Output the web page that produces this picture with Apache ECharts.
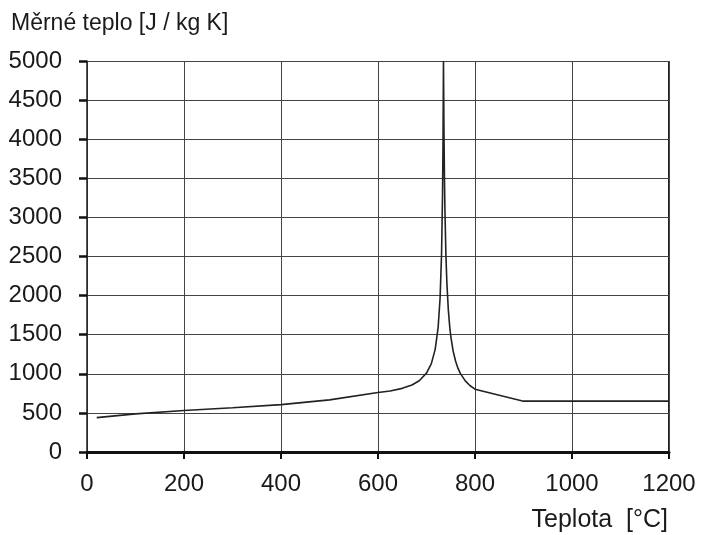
<!DOCTYPE html>
<html>
<head>
<meta charset="utf-8">
<script src="https://cdn.jsdelivr.net/npm/echarts@6/dist/echarts.min.js"></script>
<style>html,body{margin:0;padding:0;background:#fff}#c{width:706px;height:535px}</style>
</head>
<body>
<div id="c"></div>
<script>
const temperature = [20, 100, 200, 300, 400, 500, 600, 625, 650, 670, 685, 700, 710, 718, 724, 728, 731, 733, 734, 735, 736, 737, 738, 740, 742, 745, 748, 750, 755, 760, 765, 770, 780, 790, 800, 900, 1200];
const specificHeat = [440, 488, 530, 565, 606, 667, 760, 781, 814, 857, 911, 1008, 1130, 1316, 1595, 1966, 2523, 3266, 3916, 5000, 4109, 3515, 3091, 2525, 2165, 1818, 1593, 1483, 1288, 1160, 1069, 1002, 909, 847, 803, 650, 650];
const xTicks = [0, 200, 400, 600, 800, 1000, 1200];
const yTicks = [0, 500, 1000, 1500, 2000, 2500, 3000, 3500, 4000, 4500, 5000];
const yTitle = 'Měrné teplo [J / kg K]';
const xTitle = 'Teplota  [°C]';

const chart = echarts.init(document.getElementById('c'));
const font = 'Liberation Sans, Arial, sans-serif';
chart.setOption({
  animation: false,
  backgroundColor: '#fff',
  grid: {left: 87, right: 37, top: 61, bottom: 83, containLabel: false, show: false},
  graphic: [
    {type: 'text', left: 11, top: 12, style: {text: yTitle, font: '23px ' + font, fill: '#1a1a1a'}},
    {type: 'text', right: 38, top: 508, style: {text: xTitle, font: '25px ' + font, fill: '#1a1a1a'}},
    {type: 'line', shape: {x1: 669, y1: 61, x2: 669, y2: 452}, style: {stroke: '#222', lineWidth: 2}}
  ],
  xAxis: {
    type: 'value', min: xTicks[0], max: xTicks[xTicks.length - 1], interval: 200,
    axisLine: {show: true, lineStyle: {color: '#111', width: 3}},
    axisTick: {show: true, length: 7, lineStyle: {color: '#111', width: 2}},
    axisLabel: {margin: 20, fontSize: 24, fontFamily: font, color: '#1a1a1a', formatter: v => String(v)},
    splitLine: {show: true, lineStyle: {color: '#444', width: 1}}
  },
  yAxis: {
    type: 'value', min: yTicks[0], max: yTicks[yTicks.length - 1], interval: 500,
    axisLine: {show: true, lineStyle: {color: '#222', width: 1.5}},
    axisTick: {show: true, length: 8, lineStyle: {color: '#111', width: 2.5}},
    axisLabel: {margin: 25, fontSize: 24, fontFamily: font, color: '#1a1a1a', formatter: v => String(v)},
    splitLine: {show: true, lineStyle: {color: '#444', width: 1}}
  },
  series: [{
    type: 'line',
    data: temperature.map((t, i) => [t, specificHeat[i]]),
    showSymbol: false,
    smooth: false,
    lineStyle: {color: '#222', width: 1.6},
    z: 5
  }]
});
</script>
</body>
</html>
